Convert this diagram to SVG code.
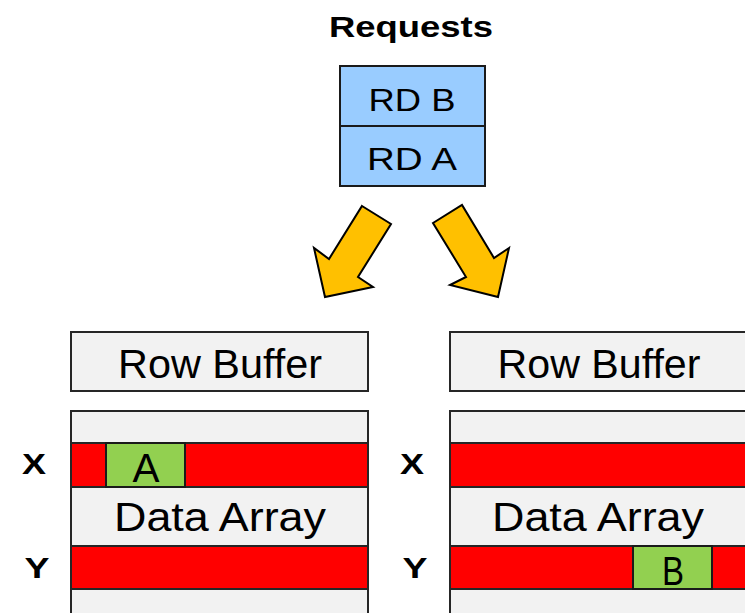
<svg xmlns="http://www.w3.org/2000/svg" width="745" height="613" viewBox="0 0 745 613">
<style>
.box{fill:#F2F2F2;stroke:#262626;stroke-width:2}
.req{fill:#99CCFF;stroke:#1a1a1a;stroke-width:2}
.row{fill:#FF0000;stroke:#262626;stroke-width:2}
.hit{fill:#92D050;stroke:#1a1a1a;stroke-width:2}
.arrow{fill:#FFC000;stroke:#000;stroke-width:2;stroke-linejoin:miter}
.t{font-family:"Liberation Sans",Arial,sans-serif;fill:#000;text-anchor:middle}
.b{font-family:"Liberation Sans",Arial,sans-serif;font-weight:bold;fill:#000;text-anchor:middle}
</style>
<rect width="745" height="613" fill="#fff"/>
<g id="requests">
<text class="b" x="411" y="37" font-size="30" textLength="164" lengthAdjust="spacingAndGlyphs">Requests</text>
<rect class="req" x="340" y="66" width="145" height="60"/>
<rect class="req" x="340" y="126" width="145" height="60"/>
<text class="t" x="412" y="111" font-size="32" textLength="87" lengthAdjust="spacingAndGlyphs">RD B</text>
<text class="t" x="412" y="170" font-size="32" textLength="90" lengthAdjust="spacingAndGlyphs">RD A</text>
</g>
<g id="connectors">
<polygon class="arrow" points="362,206 391,224 358,277 373,287 325,297 314,248 329,259"/>
<polygon class="arrow" points="433,223 462,205 494,258 509,248 498,297 450,285 466,277"/>
</g>
<g id="bank-left">
<rect class="box" x="71" y="332" width="297" height="59"/>
<text class="t" x="220" y="378" font-size="40" textLength="204" lengthAdjust="spacingAndGlyphs">Row Buffer</text>
<rect class="box" x="71" y="411" width="297" height="220"/>
<rect class="row" x="71" y="443" width="297" height="44"/>
<rect class="hit" x="106" y="443" width="79" height="44"/>
<text class="t" x="146" y="482" font-size="40" textLength="27" lengthAdjust="spacingAndGlyphs">A</text>
<text class="t" x="220" y="531" font-size="40" textLength="212" lengthAdjust="spacingAndGlyphs">Data Array</text>
<rect class="row" x="71" y="546" width="297" height="43"/>
<text class="b" x="34" y="474" font-size="29" textLength="24" lengthAdjust="spacingAndGlyphs">X</text>
<text class="b" x="37" y="578" font-size="29" textLength="25" lengthAdjust="spacingAndGlyphs">Y</text>
</g>
<g id="bank-right">
<rect class="box" x="450" y="332" width="297" height="59"/>
<text class="t" x="599" y="378" font-size="40" textLength="203" lengthAdjust="spacingAndGlyphs">Row Buffer</text>
<rect class="box" x="450" y="411" width="297" height="220"/>
<rect class="row" x="450" y="443" width="297" height="44"/>
<text class="t" x="598" y="531" font-size="40" textLength="212" lengthAdjust="spacingAndGlyphs">Data Array</text>
<rect class="row" x="450" y="546" width="297" height="43"/>
<rect class="hit" x="633" y="546" width="79" height="43"/>
<text class="t" x="673" y="585" font-size="40" textLength="22" lengthAdjust="spacingAndGlyphs">B</text>
<text class="b" x="412" y="474" font-size="29" textLength="24" lengthAdjust="spacingAndGlyphs">X</text>
<text class="b" x="415" y="578" font-size="29" textLength="25" lengthAdjust="spacingAndGlyphs">Y</text>
</g>
</svg>
